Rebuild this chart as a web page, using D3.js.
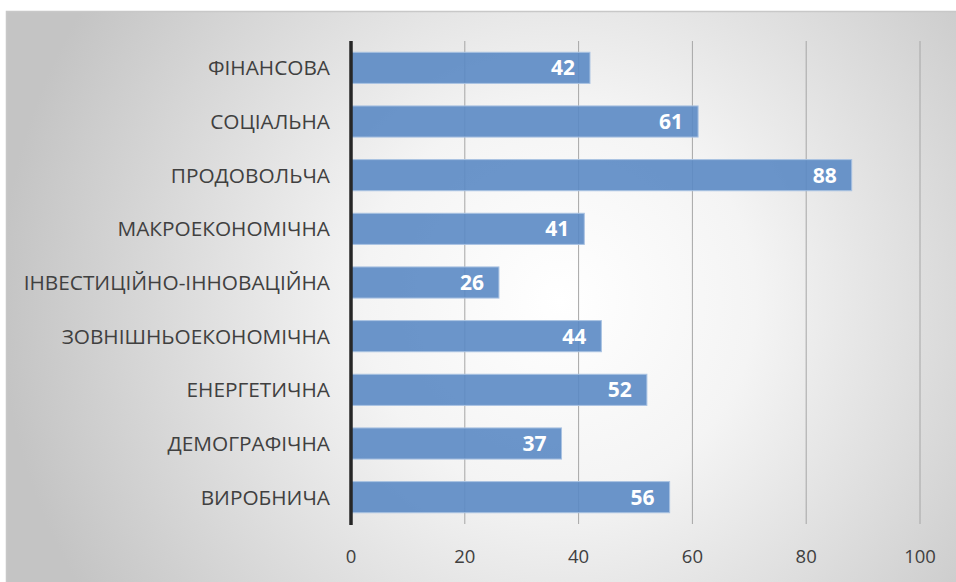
<!DOCTYPE html>
<html><head><meta charset="utf-8">
<script src="https://cdn.jsdelivr.net/npm/d3@7"></script>
<style>body{margin:0;background:#fff}svg{display:block}</style>
</head><body>
<svg id="c" width="956" height="582"></svg>
<script>
const categories = ["ФІНАНСОВА","СОЦІАЛЬНА","ПРОДОВОЛЬЧА","МАКРОЕКОНОМІЧНА","ІНВЕСТИЦІЙНО-ІННОВАЦІЙНА","ЗОВНІШНЬОЕКОНОМІЧНА","ЕНЕРГЕТИЧНА","ДЕМОГРАФІЧНА","ВИРОБНИЧА"];
const values = [42,61,88,41,26,44,52,37,56];
const ticks = [0,20,40,60,80,100];

const svg = d3.select("#c");
const defs = svg.append("defs");
const rg = defs.append("radialGradient").attr("id","bg")
  .attr("gradientUnits","userSpaceOnUse").attr("cx",560).attr("cy",300).attr("r",560);
rg.append("stop").attr("offset","0").attr("stop-color","#ffffff");
rg.append("stop").attr("offset","0.35").attr("stop-color","#f4f4f4");
rg.append("stop").attr("offset","1").attr("stop-color","#c4c4c4");

svg.append("rect").attr("x",6.5).attr("y",11.5).attr("width",960).attr("height",600)
  .attr("fill","url(#bg)").attr("stroke","#c8c8c8").attr("stroke-width",1.5);

const x = d3.scaleLinear().domain([0,100]).range([351,920]);
const y = d3.scaleBand().domain(categories).range([41,524]).paddingInner(0.42).paddingOuter(0.21);

const g = svg.append("g");
g.selectAll("line.grid").data(ticks.slice(1)).join("line")
  .attr("x1",d=>x(d)).attr("x2",d=>x(d)).attr("y1",41).attr("y2",524)
  .attr("stroke","#a6a6a6").attr("stroke-width",1);

g.selectAll("rect.bar").data(values).join("rect")
  .attr("x",x(0)).attr("y",(d,i)=>y(categories[i]))
  .attr("width",d=>x(d)-x(0)).attr("height",y.bandwidth())
  .attr("fill","#5b8ac4").attr("fill-opacity",0.9)
  .attr("stroke","#a9c2e2").attr("stroke-width",1);

g.selectAll("text.val").data(values).join("text")
  .attr("x",d=>x(d)-15).attr("y",(d,i)=>y(categories[i])+y.bandwidth()/2)
  .attr("dy","0.36em").attr("text-anchor","end")
  .attr("fill","#ffffff").attr("font-family","'Open Sans', sans-serif")
  .attr("font-weight","bold").attr("font-size",21).text(d=>d);

g.selectAll("text.cat").data(categories).join("text")
  .attr("x",330).attr("y",d=>y(d)+y.bandwidth()/2)
  .attr("dy","0.36em").attr("text-anchor","end")
  .attr("fill","#404040").attr("font-family","'Open Sans', sans-serif")
  .attr("font-size",20.8).text(d=>d);

g.append("line").attr("x1",x(0)).attr("x2",x(0)).attr("y1",41).attr("y2",525)
  .attr("stroke","#262626").attr("stroke-width",3.5);

g.selectAll("text.tick").data(ticks).join("text")
  .attr("x",d=>x(d)).attr("y",556).attr("dy","0.36em").attr("text-anchor","middle")
  .attr("fill","#404040").attr("font-family","'Open Sans', sans-serif")
  .attr("font-size",18.5).text(d=>d);
</script>
</body></html>
